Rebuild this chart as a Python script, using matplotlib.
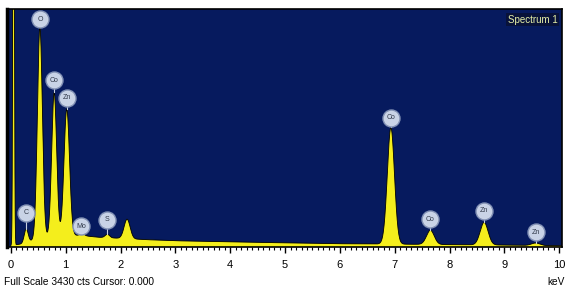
import numpy as np
import matplotlib
matplotlib.use("Agg")
import matplotlib.pyplot as plt
from matplotlib.ticker import MultipleLocator

plt.rcParams['font.family'] = ['Liberation Sans', 'DejaVu Sans']

# ---- data ----
# peaks: energy (keV), height above background (counts), sigma (keV)
peak_energy = [0.05, 0.28, 0.53, 0.79, 1.02, 1.30, 1.76, 2.12, 6.93, 7.65, 8.63, 9.57]
peak_height = [9000, 200, 3050, 2080, 1820, 30, 50, 280, 1680, 205, 325, 35]
peak_sigma  = [0.012, 0.035, 0.045, 0.045, 0.05, 0.04, 0.04, 0.055, 0.065, 0.07, 0.072, 0.075]

# continuum background readings (keV, counts)
bg_energy = [0.0, 0.2, 0.5, 1.0, 1.3, 1.6, 2.0, 2.5, 3.0, 4.0, 5.0, 6.0, 7.0, 8.0, 9.0, 10.0]
bg_counts = [20, 45, 120, 170, 165, 140, 125, 105, 90, 74, 60, 47, 42, 34, 28, 18]

# element markers: label, energy, label height (counts)
mark_labels = ['C', 'O', 'Co', 'Zn', 'Mo', 'S', 'Co', 'Co', 'Zn', 'Zn']
mark_energy = [0.28, 0.53, 0.79, 1.02, 1.28, 1.76, 6.93, 7.65, 8.63, 9.57]
mark_y      = [490, 3280, 2400, 2150, 300, 390, 1860, 400, 520, 215]

full_scale = 3430
xticks = list(range(0, 11))

# ---- build spectrum ----
E = np.arange(0.0, 10.06, 0.005)
spec = np.interp(E, bg_energy, bg_counts).astype(float)
for e0, h, s in zip(peak_energy, peak_height, peak_sigma):
    spec += h * np.exp(-0.5 * ((E - e0) / s) ** 2)

W, H = 567, 288
fig = plt.figure(figsize=(W / 100, H / 100), dpi=100)
fig.patch.set_facecolor('white')
ax = fig.add_axes([7 / W, 1 - 247 / H, (562 - 7) / W, (247 - 9) / H])
ax.set_facecolor('#061a5e')
ax.set_xlim(-0.07, 10.05)
ax.set_ylim(0, full_scale)

ax.fill_between(E, 0, spec, color='#f4ee1c', zorder=2, linewidth=0)
ax.plot(E, spec, color='black', lw=0.6, zorder=3)

# markers
for lab, e, y in zip(mark_labels, mark_energy, mark_y):
    idx = np.argmin(np.abs(E - e))
    ax.plot([e, e], [spec[idx], y], color='#c8d0e0', lw=0.8, zorder=4)
    ax.scatter([e], [y], s=150, color='#c9d3e6', edgecolors='#8190b4', linewidths=1.0, zorder=5)
    ax.text(e, y, lab, ha='center', va='center', fontsize=5, color='#303848', zorder=6)

ax.text(0.992, 0.975, 'Spectrum 1', transform=ax.transAxes, ha='right', va='top',
        fontsize=7, color='#e6f0a8', zorder=7,
        bbox=dict(boxstyle='square,pad=0.15', facecolor='#08123a', edgecolor='none'))

for sp in ax.spines.values():
    sp.set_color('black')
    sp.set_linewidth(1.2)
ax.spines['left'].set_linewidth(2.5)

ax.set_xticks(xticks)
ax.set_xticklabels([str(t) for t in xticks])
ax.xaxis.set_minor_locator(MultipleLocator(0.1))
ax.tick_params(axis='x', which='major', direction='out', length=4, width=1, pad=5,
               labelsize=8, colors='black')
ax.tick_params(axis='x', which='minor', direction='out', length=2, width=0.8)
ax.set_yticks([])

fig.text(4 / W, 1 - 282 / H, 'Full Scale 3430 cts Cursor: 0.000', fontsize=7.3,
         ha='left', va='center', color='black')
fig.text(565 / W, 1 - 282 / H, 'keV', fontsize=7.3, ha='right', va='center', color='black')

fig.savefig('out.png', dpi=100, facecolor='white')
